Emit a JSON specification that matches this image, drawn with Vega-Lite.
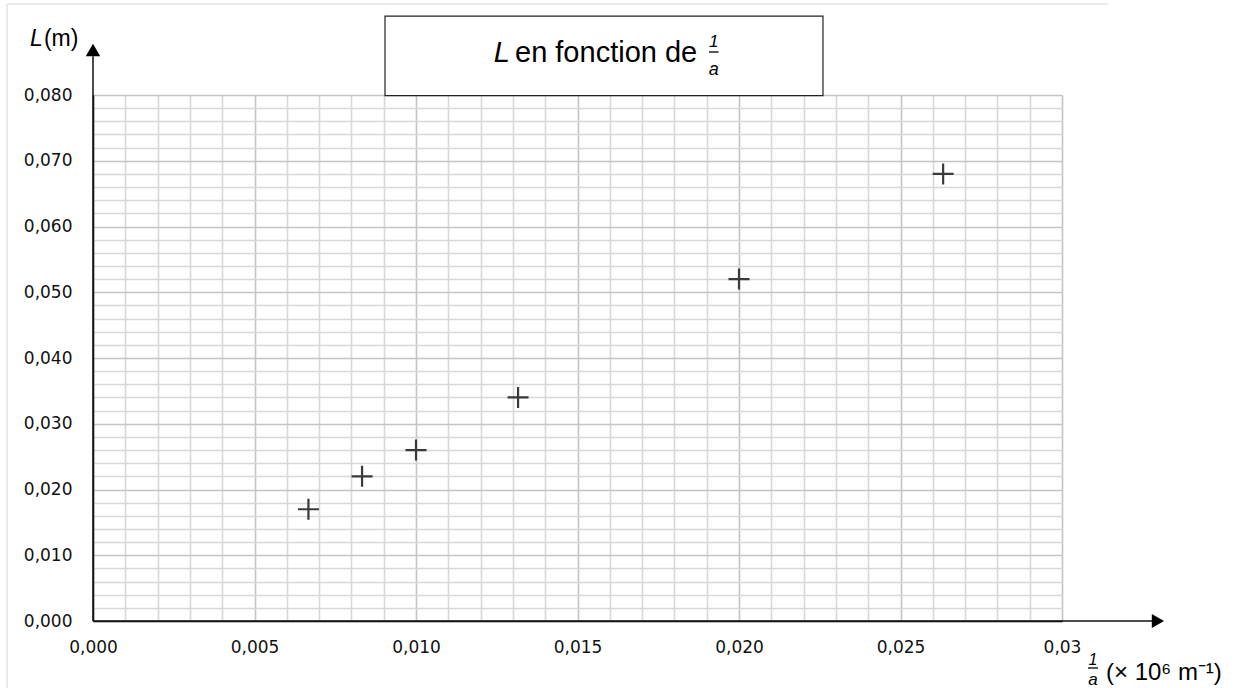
{
  "$schema": "https://vega.github.io/schema/vega-lite/v6.json",
  "width": 969,
  "height": 526,
  "autosize": "none",
  "padding": {"left": 93, "top": 95, "right": 176, "bottom": 67},
  "background": "white",
  "config": {
    "view": {"stroke": null},
    "axis": {"title": null},
    "text": {"font": "Liberation Sans", "color": "black"}
  },
  "data": {
    "values": [
      {"inv_a": 0.00667, "L": 0.017},
      {"inv_a": 0.00833, "L": 0.022},
      {"inv_a": 0.0100, "L": 0.026},
      {"inv_a": 0.01316, "L": 0.034},
      {"inv_a": 0.0200, "L": 0.052},
      {"inv_a": 0.02632, "L": 0.068}
    ]
  },
  "layer": [
    {
      "mark": {"type": "point", "shape": "M-1,0L1,0M0,-1L0,1", "filled": false, "size": 441, "strokeWidth": 2.2, "color": "#3a3a3a", "opacity": 1},
      "encoding": {
        "x": {
          "field": "inv_a", "type": "quantitative",
          "scale": {"domain": [0, 0.03], "nice": false, "zero": false},
          "axis": {
            "title": null,
            "values": [0,0.001,0.002,0.003,0.004,0.005,0.006,0.007,0.008,0.009,0.010,0.011,0.012,0.013,0.014,0.015,0.016,0.017,0.018,0.019,0.020,0.021,0.022,0.023,0.024,0.025,0.026,0.027,0.028,0.029,0.030],
            "tickCount": 200,
            "grid": true,
            "gridColor": {"condition": {"test": "round(datum.value*1000) % 5 === 0", "value": "#c4c4c4"}, "value": "#d8d8d8"},
            "gridWidth": 1.6,
            "domain": true, "domainColor": "#222222", "domainWidth": 1.5,
            "ticks": false,
            "labelExpr": "round(datum.value*1000) % 5 === 0 ? (datum.value > 0.0295 ? '0,03' : replace(format(datum.value, '.3f'), '.', ',')) : ''",
            "labelOverlap": false, "labelBound": false, "labelFlush": false,
            "labelFont": "DejaVu Sans", "labelFontSize": 17, "labelColor": "#111111",
            "labelPadding": 18
          }
        },
        "y": {
          "field": "L", "type": "quantitative",
          "scale": {"domain": [0, 0.08], "nice": false, "zero": false},
          "axis": {
            "title": null,
            "values": [0,0.002,0.004,0.006,0.008,0.010,0.012,0.014,0.016,0.018,0.020,0.022,0.024,0.026,0.028,0.030,0.032,0.034,0.036,0.038,0.040,0.042,0.044,0.046,0.048,0.050,0.052,0.054,0.056,0.058,0.060,0.062,0.064,0.066,0.068,0.070,0.072,0.074,0.076,0.078,0.080],
            "tickCount": 200,
            "grid": true,
            "gridColor": {"condition": {"test": "round(datum.value*1000) % 10 === 0", "value": "#c4c4c4"}, "value": "#d8d8d8"},
            "gridWidth": 1.6,
            "domain": true, "domainColor": "#222222", "domainWidth": 1.5,
            "ticks": false,
            "labelExpr": "round(datum.value*1000) % 10 === 0 ? replace(format(datum.value, '.3f'), '.', ',') : ''",
            "labelOverlap": false, "labelBound": false, "labelFlush": false,
            "labelFont": "DejaVu Sans", "labelFontSize": 17, "labelColor": "#111111",
            "labelPadding": 21
          }
        }
      }
    },
    {
      "data": {"values": [{}]},
      "mark": {"type": "rule", "color": "#e4e4e4", "strokeWidth": 1.5},
      "encoding": {
        "x": {"datum": -0.00266, "type": "quantitative", "scale": {"domain": [0, 0.03], "nice": false, "zero": false}},
        "x2": {"datum": 0.03143},
        "y": {"datum": 0.09384, "type": "quantitative", "scale": {"domain": [0, 0.08], "nice": false, "zero": false}}
      }
    },
    {
      "data": {"values": [{}]},
      "mark": {"type": "rule", "color": "#e4e4e4", "strokeWidth": 1.5},
      "encoding": {
        "x": {"datum": -0.00266, "type": "quantitative", "scale": {"domain": [0, 0.03], "nice": false, "zero": false}},
        "y": {"datum": 0.09384, "type": "quantitative", "scale": {"domain": [0, 0.08], "nice": false, "zero": false}},
        "y2": {"datum": -0.0105}
      }
    },
    {
      "data": {"values": [{}]},
      "mark": {"type": "rule", "color": "#111111", "strokeWidth": 1.5},
      "encoding": {
        "x": {"datum": 0, "type": "quantitative", "scale": {"domain": [0, 0.03], "nice": false, "zero": false}},
        "y": {"datum": 0, "type": "quantitative", "scale": {"domain": [0, 0.08], "nice": false, "zero": false}},
        "y2": {"datum": 0.0859}
      }
    },
    {
      "data": {"values": [{}]},
      "mark": {"type": "rule", "color": "#111111", "strokeWidth": 1.5},
      "encoding": {
        "x": {"datum": 0, "type": "quantitative", "scale": {"domain": [0, 0.03], "nice": false, "zero": false}},
        "x2": {"datum": 0.0328},
        "y": {"datum": 0, "type": "quantitative", "scale": {"domain": [0, 0.08], "nice": false, "zero": false}}
      }
    },
    {
      "data": {"values": [{}]},
      "mark": {"type": "point", "shape": "triangle-up", "filled": true, "size": 210, "color": "#000000", "opacity": 1},
      "encoding": {
        "x": {"datum": 0, "type": "quantitative", "scale": {"domain": [0, 0.03], "nice": false, "zero": false}},
        "y": {"datum": 0.08684, "type": "quantitative", "scale": {"domain": [0, 0.08], "nice": false, "zero": false}}
      }
    },
    {
      "data": {"values": [{}]},
      "mark": {"type": "point", "shape": "triangle-right", "filled": true, "size": 200, "color": "#000000", "opacity": 1},
      "encoding": {
        "x": {"datum": 0.03297, "type": "quantitative", "scale": {"domain": [0, 0.03], "nice": false, "zero": false}},
        "y": {"datum": 0, "type": "quantitative", "scale": {"domain": [0, 0.08], "nice": false, "zero": false}}
      }
    },
    {
      "data": {"values": [{}]},
      "mark": {"type": "rect", "fill": "white", "stroke": "#222222", "strokeWidth": 1.2},
      "encoding": {
        "x": {"datum": 0.00904, "type": "quantitative", "scale": {"domain": [0, 0.03], "nice": false, "zero": false}},
        "x2": {"datum": 0.0226},
        "y": {"datum": 0.0920, "type": "quantitative", "scale": {"domain": [0, 0.08], "nice": false, "zero": false}},
        "y2": {"datum": 0.0799}
      }
    },
    {
      "data": {"values": [{"t": "L"}]},
      "mark": {"type": "text", "align": "left", "baseline": "alphabetic", "fontSize": 29, "fontStyle": "italic"},
      "encoding": {
        "x": {"datum": 0.01241, "type": "quantitative", "scale": {"domain": [0, 0.03], "nice": false, "zero": false}},
        "y": {"datum": 0.08502, "type": "quantitative", "scale": {"domain": [0, 0.08], "nice": false, "zero": false}},
        "text": {"field": "t"}
      }
    },
    {
      "data": {"values": [{"t": "en fonction de"}]},
      "mark": {"type": "text", "align": "left", "baseline": "alphabetic", "fontSize": 29},
      "encoding": {
        "x": {"datum": 0.013065, "type": "quantitative", "scale": {"domain": [0, 0.03], "nice": false, "zero": false}},
        "y": {"datum": 0.08502, "type": "quantitative", "scale": {"domain": [0, 0.08], "nice": false, "zero": false}},
        "text": {"field": "t"}
      }
    },
    {
      "data": {"values": [{"t": "1"}]},
      "mark": {"type": "text", "align": "center", "baseline": "alphabetic", "fontSize": 17, "fontStyle": "italic"},
      "encoding": {
        "x": {"datum": 0.01922, "type": "quantitative", "scale": {"domain": [0, 0.03], "nice": false, "zero": false}},
        "y": {"datum": 0.0873, "type": "quantitative", "scale": {"domain": [0, 0.08], "nice": false, "zero": false}},
        "text": {"field": "t"}
      }
    },
    {
      "data": {"values": [{}]},
      "mark": {"type": "rule", "color": "#000000", "strokeWidth": 1.3},
      "encoding": {
        "x": {"datum": 0.01907, "type": "quantitative", "scale": {"domain": [0, 0.03], "nice": false, "zero": false}},
        "x2": {"datum": 0.01937},
        "y": {"datum": 0.08654, "type": "quantitative", "scale": {"domain": [0, 0.08], "nice": false, "zero": false}}
      }
    },
    {
      "data": {"values": [{"t": "a"}]},
      "mark": {"type": "text", "align": "center", "baseline": "alphabetic", "fontSize": 18, "fontStyle": "italic"},
      "encoding": {
        "x": {"datum": 0.01922, "type": "quantitative", "scale": {"domain": [0, 0.03], "nice": false, "zero": false}},
        "y": {"datum": 0.08304, "type": "quantitative", "scale": {"domain": [0, 0.08], "nice": false, "zero": false}},
        "text": {"field": "t"}
      }
    },
    {
      "data": {"values": [{"t": "L"}]},
      "mark": {"type": "text", "align": "left", "baseline": "alphabetic", "fontSize": 23, "fontStyle": "italic"},
      "encoding": {
        "x": {"datum": -0.00195, "type": "quantitative", "scale": {"domain": [0, 0.03], "nice": false, "zero": false}},
        "y": {"datum": 0.08745, "type": "quantitative", "scale": {"domain": [0, 0.08], "nice": false, "zero": false}},
        "text": {"field": "t"}
      }
    },
    {
      "data": {"values": [{"t": "(m)"}]},
      "mark": {"type": "text", "align": "left", "baseline": "alphabetic", "fontSize": 23},
      "encoding": {
        "x": {"datum": -0.00152, "type": "quantitative", "scale": {"domain": [0, 0.03], "nice": false, "zero": false}},
        "y": {"datum": 0.08745, "type": "quantitative", "scale": {"domain": [0, 0.08], "nice": false, "zero": false}},
        "text": {"field": "t"}
      }
    },
    {
      "data": {"values": [{"t": "1"}]},
      "mark": {"type": "text", "align": "center", "baseline": "alphabetic", "fontSize": 16, "fontStyle": "italic"},
      "encoding": {
        "x": {"datum": 0.030959, "type": "quantitative", "scale": {"domain": [0, 0.03], "nice": false, "zero": false}},
        "y": {"datum": -0.006692, "type": "quantitative", "scale": {"domain": [0, 0.08], "nice": false, "zero": false}},
        "text": {"field": "t"}
      }
    },
    {
      "data": {"values": [{}]},
      "mark": {"type": "rule", "color": "#000000", "strokeWidth": 1.3},
      "encoding": {
        "x": {"datum": 0.030805, "type": "quantitative", "scale": {"domain": [0, 0.03], "nice": false, "zero": false}},
        "x2": {"datum": 0.031114},
        "y": {"datum": -0.007148, "type": "quantitative", "scale": {"domain": [0, 0.08], "nice": false, "zero": false}}
      }
    },
    {
      "data": {"values": [{"t": "a"}]},
      "mark": {"type": "text", "align": "center", "baseline": "alphabetic", "fontSize": 17, "fontStyle": "italic"},
      "encoding": {
        "x": {"datum": 0.030959, "type": "quantitative", "scale": {"domain": [0, 0.03], "nice": false, "zero": false}},
        "y": {"datum": -0.00973, "type": "quantitative", "scale": {"domain": [0, 0.08], "nice": false, "zero": false}},
        "text": {"field": "t"}
      }
    },
    {
      "data": {"values": [{"t": "(× 10⁶ m⁻¹)"}]},
      "mark": {"type": "text", "align": "left", "baseline": "alphabetic", "fontSize": 24},
      "encoding": {
        "x": {"datum": 0.031361, "type": "quantitative", "scale": {"domain": [0, 0.03], "nice": false, "zero": false}},
        "y": {"datum": -0.008973, "type": "quantitative", "scale": {"domain": [0, 0.08], "nice": false, "zero": false}},
        "text": {"field": "t"}
      }
    }
  ]
}
